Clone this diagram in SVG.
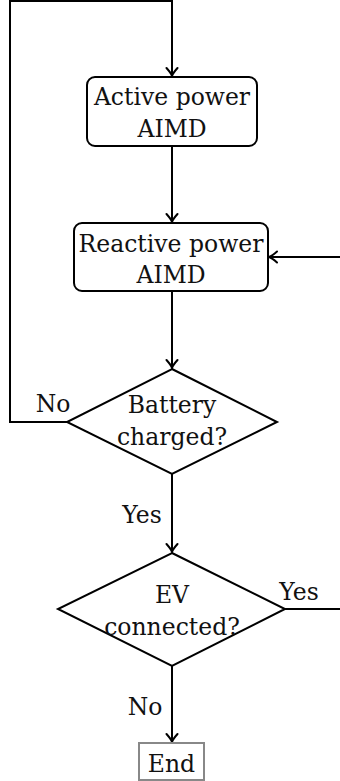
<svg xmlns="http://www.w3.org/2000/svg" width="340" height="781" viewBox="0 0 340 781">
<style>
.n{fill:#fff;stroke:#000;stroke-width:2}
.c{fill:none;stroke:#000;stroke-width:2}
text{font-family:'DejaVu Serif',serif;font-size:23.5px;fill:#111;text-anchor:middle}
</style>
<defs>
<marker id="ah" markerWidth="14" markerHeight="14" refX="0" refY="0" viewBox="-10 -7 12 14" orient="auto" markerUnits="userSpaceOnUse">
<path d="M-8,-5.5 Q-3,-1 0,0 Q-3,1 -8,5.5" fill="none" stroke="#000" stroke-width="2" stroke-linecap="round"/>
</marker>
</defs>
<g id="connectors">
<path class="c" d="M67,422 H10 V1 H172 V76" marker-end="url(#ah)"/>
<path class="c" d="M172,146 V222" marker-end="url(#ah)"/>
<path class="c" d="M172,291 V368" marker-end="url(#ah)"/>
<path class="c" d="M172,474 V552" marker-end="url(#ah)"/>
<path class="c" d="M172,666 V742" marker-end="url(#ah)"/>
<path class="c" d="M285,609 H340"/>
<path class="c" d="M340,257 H269" marker-end="url(#ah)"/>
</g>
<g id="active">
<rect class="n" x="87" y="77" width="170" height="69" rx="8"/>
<text x="172" y="105">Active power</text>
<text x="172" y="137">AIMD</text>
</g>
<g id="reactive">
<rect class="n" x="74" y="223" width="194" height="68" rx="8"/>
<text x="171" y="252">Reactive power</text>
<text x="171" y="283">AIMD</text>
</g>
<g id="battery">
<polygon class="n" points="172,369 277,422 172,474 67,422"/>
<text x="172" y="413">Battery</text>
<text x="172" y="445">charged?</text>
</g>
<g id="ev">
<polygon class="n" points="172,553 285,609 172,666 58,609"/>
<text x="172" y="603">EV</text>
<text x="172" y="635">connected?</text>
</g>
<g id="end">
<rect x="139" y="743" width="65" height="37" fill="#fff" stroke="#888" stroke-width="2"/>
<text x="171.5" y="772">End</text>
</g>
<g id="labels">
<text x="53" y="412">No</text>
<text x="142" y="523">Yes</text>
<text x="299" y="600">Yes</text>
<text x="145" y="715">No</text>
</g>
</svg>
